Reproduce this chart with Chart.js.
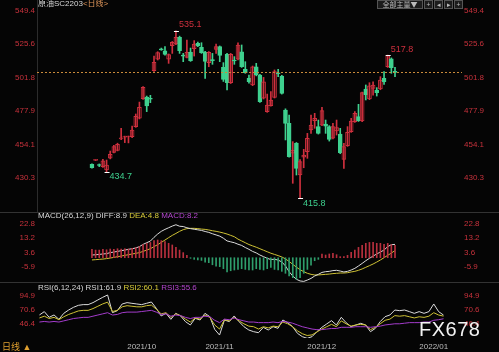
<!DOCTYPE html>
<html><head><meta charset="utf-8">
<script src="https://cdn.jsdelivr.net/npm/chart.js@4.4.0/dist/chart.umd.min.js"></script>
<style>
html,body{margin:0;padding:0;background:#050505;}
#wrap{position:relative;width:499px;height:352px;background:#050505;overflow:hidden;font-family:"Liberation Sans","Noto Sans CJK SC",sans-serif;}
canvas{position:absolute;left:0;}
.t{position:absolute;font-size:8px;line-height:10px;white-space:nowrap;color:#d8d8d8;}
.btn{position:absolute;top:0;height:7px;border:1px solid #555;background:#1c1c1c;color:#bbb;font-size:7px;line-height:7px;text-align:center;font-family:"Noto Sans CJK SC",sans-serif;}
</style></head>
<body><div id="wrap">
<canvas id="kline" width="499" height="212" style="top:0"></canvas>
<canvas id="macd" width="499" height="70" style="top:212px"></canvas>
<canvas id="rsi" width="499" height="70" style="top:282px"></canvas>
<div class="t" style="left:38px;top:-1px">原油SC2203<span style="color:#e0965a">&lt;日线&gt;</span></div>
<div class="btn" style="left:377px;width:44px">全部主量▼</div>
<div class="btn" style="left:424px;width:7px">+</div>
<div class="btn" style="left:434px;width:7px">◂</div>
<div class="btn" style="left:444px;width:7px">▸</div>
<div class="btn" style="left:454px;width:7px">+</div>
<div class="t" style="left:38px;top:211px">MACD(26,12,9) DIFF:8.9 <span style="color:#d8cc3a">DEA:4.8</span> <span style="color:#b546d0">MACD:8.2</span></div>
<div class="t" style="left:38px;top:283px">RSI(6,12,24) RSI1:61.9 <span style="color:#d8cc3a">RSI2:60.1</span> <span style="color:#b546d0">RSI3:55.6</span></div>
<div class="t" style="left:2px;top:342px;color:#e0a030;font-size:9px">日线 ▲</div>
<div class="t" style="left:419px;top:317px;font-size:20px;line-height:24px;color:#f2f2f2;letter-spacing:0.5px">FX678</div>
</div>
<script>
// daily candles, index 0 = first bar on the left
const open  = [439.9,442.8,439.3,438.3,435.9,444.4,448.5,449.9,458.0,459.3,459.4,459.6,466.8,472.9,486.7,487.9,486.7,506.7,514.8,522.0,
  520.9,514.8,524.5,525.7,530.4,517.3,516.2,520.0,522.4,526.2,523.3,520.0,512.4,513.9,521.9,523.8,509.0,518.3,498.1,513.9,
  514.8,520.2,507.6,501.2,496.5,509.5,503.6,487.0,477.5,481.8,487.7,504.8,502.9,478.6,469.1,447.8,454.9,432.3,445.0,448.9,
  464.4,471.0,466.8,467.9,468.7,466.8,458.5,463.7,461.5,443.5,453.2,463.2,470.3,473.9,470.8,493.6,486.5,494.1,492.9,493.6,
  501.2,509.5,515.2,505.6];
const high  = [440.2,443.3,440.2,443.5,443.0,449.4,453.5,455.0,465.6,460.0,460.1,467.2,475.8,484.3,495.3,488.6,489.1,517.1,520.2,522.8,
  523.8,518.6,527.5,535.1,531.3,519.0,528.5,522.8,528.1,527.0,526.6,520.5,520.3,519.0,525.7,524.3,512.4,519.0,519.0,516.7,
  526.6,525.0,513.1,503.6,510.0,511.9,504.0,501.9,490.0,491.7,507.2,507.6,503.4,479.5,475.1,456.1,455.5,443.3,450.6,462.0,
  475.1,476.3,471.5,480.5,471.5,467.5,469.1,471.5,465.6,454.9,466.8,472.7,477.5,482.7,491.5,496.5,498.1,498.8,494.6,502.4,
  506.0,517.8,515.8,509.1];
const low   = [437.2,442.6,438.3,437.8,434.7,443.8,448.0,449.5,457.5,455.4,455.2,459.0,466.3,472.3,486.2,477.5,483.9,506.2,514.3,521.2,
  517.8,511.9,519.0,525.2,519.0,513.1,515.7,513.3,517.1,523.8,519.0,501.2,509.5,511.2,519.0,513.1,499.0,492.9,497.5,511.2,
  514.3,509.0,504.8,497.7,496.0,503.0,484.0,486.5,477.0,481.3,487.2,502.4,490.0,457.3,445.0,426.4,432.3,415.8,437.5,444.2,
  462.0,465.6,461.5,467.4,462.0,456.5,458.0,460.8,447.5,437.1,452.7,462.7,469.8,470.5,470.3,485.8,486.0,489.3,488.6,493.1,
  496.9,509.0,504.8,502.4];
const close = [437.5,443.1,439.1,442.5,439.4,447.0,452.5,454.2,458.9,459.8,459.9,464.4,474.1,480.5,494.8,481.5,486.3,512.6,519.5,521.5,
  518.3,518.1,526.9,530.4,520.9,517.1,519.8,513.8,525.7,524.3,519.5,513.3,519.8,513.8,523.8,517.6,500.5,498.1,518.3,513.6,
  525.0,509.5,505.3,498.8,509.5,503.6,484.6,498.8,482.2,485.8,506.0,504.5,490.5,469.1,445.4,450.1,437.1,441.8,446.5,458.4,
  467.9,472.7,462.0,478.2,467.2,457.7,466.8,466.1,448.2,452.5,462.7,470.8,476.3,471.0,491.0,489.6,495.8,496.5,491.0,500.0,
  498.8,517.4,508.8,505.5];

// MACD(26,12,9)
const diff = [1.8,2.0,2.2,2.5,2.7,3.4,3.8,4.2,4.7,5.1,5.6,6.0,6.5,7.4,8.9,10.0,11.1,13.6,15.8,17.6,
  18.9,20.0,21.1,22.0,21.0,20.8,20.0,19.4,19.0,18.6,18.2,17.5,16.9,16.0,15.2,14.4,13.0,11.2,10.6,10.0,
  9.0,8.2,6.8,5.6,4.2,3.2,1.8,0.7,-0.4,-1.2,-1.0,-1.6,-2.8,-5.5,-9.3,-12.2,-14.4,-15.5,-15.8,-14.9,
  -13.8,-12.2,-11.1,-9.8,-9.3,-9.1,-8.6,-8.4,-8.9,-9.5,-9.1,-8.2,-7.1,-5.5,-3.8,-2.0,-0.4,1.1,2.5,3.8,
  5.1,7.4,8.7,8.9];
const dea = [-1.5,-1.3,-1.1,-0.9,-0.6,-0.2,0.2,0.7,1.1,1.6,2.0,2.5,2.9,3.4,4.2,5.1,6.0,7.4,8.7,10.2,
  11.8,13.4,14.9,16.2,17.6,18.7,19.4,19.6,19.6,19.4,19.1,18.9,18.5,18.0,17.6,17.1,16.5,15.8,14.9,14.0,
  12.4,11.2,10.0,8.8,7.9,7.0,6.0,5.0,4.0,3.0,2.2,1.4,0.5,-0.8,-2.5,-4.4,-6.3,-8.0,-9.3,-10.4,
  -11.1,-11.5,-11.5,-11.3,-11.1,-10.9,-10.6,-10.4,-10.2,-10.2,-10.0,-9.5,-9.1,-8.4,-7.5,-6.4,-5.3,-4.2,-2.9,-1.5,
  0.0,1.6,3.1,4.8];
const macdHist = [5.6,5.1,5.1,5.6,5.3,5.8,5.6,6.0,5.8,6.0,5.8,6.2,6.7,7.4,8.7,9.6,10.2,11.4,11.8,11.4,
  10.7,9.6,8.5,6.9,5.1,3.4,1.6,-0.4,-1.1,-1.5,-1.8,-2.9,-3.3,-4.7,-5.6,-6.0,-7.3,-9.5,-8.7,-8.2,
  -7.8,-7.3,-7.8,-8.2,-8.2,-7.3,-7.8,-8.2,-7.3,-6.4,-7.8,-8.2,-9.1,-10.4,-12.2,-13.3,-14.4,-13.3,-10.4,-7.8,
  -4.9,-2.0,-1.1,2.5,1.8,2.5,2.9,2.0,0.7,0.7,1.6,3.6,5.1,6.9,8.2,9.6,10.2,10.2,9.6,9.6,
  8.9,9.6,8.7,8.2];

// RSI(6,12,24)
const rsi1 = [62.1,67.8,58.1,62.1,54.6,64.9,70.6,75.2,78.6,79.8,79.8,83.2,87.8,92.3,96.3,66.1,69.5,80.9,83.2,82.0,
  80.9,79.8,82.0,84.3,73.5,60.4,64.9,54.6,64.9,60.4,50.7,44.9,56.4,53.5,64.9,59.2,37.5,27.8,53.5,50.7,
  60.4,50.7,42.1,36.4,33.5,31.8,40.9,36.4,42.1,39.2,53.5,48.9,42.1,30.7,25.0,22.1,25.0,33.5,40.9,46.7,
  52.4,44.9,58.1,48.9,42.1,44.9,47.8,44.9,33.5,39.2,50.7,59.2,62.1,70.6,69.5,70.6,67.8,64.9,67.8,64.9,
  67.8,80.9,67.8,61.9];
const rsi2 = [57,60,56,58,54,59,63,66,69,70,70,73,77,81,84,68,70,76,78,77,
  76,76,78,79,72,64,66,58,64,61,55,50,57,55,62,58,45,38,54,52,
  58,52,47,43,42,38,42,40,43,42,50,47,42,35,30,27,28,33,38,42,
  46,42,52,47,43,45,46,45,37,41,47,53,55,61,60,61,59,57,59,58,
  60,66,62,60.1];
const rsi3 = [50,51,50,51,50,52,54,56,57,58,58,60,62,64,66,62,63,66,67,67,
  67,68,69,70,67,63,64,60,62,61,58,56,58,58,60,59,53,49,55,54,
  57,54,52,50,50,49,49,49,50,49,51,50,48,45,42,40,38,37,37,38,
  39,39,41,41,41,42,42,42,41,42,43,45,46,47,47,48,49,49,49,50,
  50,53,54,55.6];

const priceTicks = [430.3, 454.1, 477.9, 501.8, 525.6, 549.4];
const macdTicks = [-5.9, 3.6, 13.2, 22.8];
const rsiTicks = [46.4, 70.6, 94.9];
const monthIdx = [21, 37, 58, 81];
const monthLabels = ['2021/10', '2021/11', '2021/12', '2022/01'];
const extremes = [
  {i: 23, v: 535.1, side: 'high'},
  {i: 81, v: 517.8, side: 'high'},
  {i: 4, v: 434.7, side: 'low'},
  {i: 57, v: 415.8, side: 'low'}
];

const RED = '#d0303e', GREEN = '#3fd18f', AXIS_RED = '#c8323c';
const xs = open.map((_, i) => i);
const up = xs.map(i => close[i] >= open[i]);

function xAxis(show) {
  return {
    type: 'linear', min: -0.5, max: 86.8, display: show,
    grid: {display: false, drawTicks: false}, border: {display: false},
    ticks: {color: '#bdbdbd', font: {size: 8, family: 'Liberation Sans'}, padding: 4, maxRotation: 0, autoSkip: false,
      callback: (v, idx) => monthLabels[idx]},
    afterBuildTicks: a => { a.ticks = monthIdx.map(v => ({value: v})); },
    afterFit: a => { a.height = show ? 14 : 0; a.paddingLeft = 0; a.paddingRight = 0; }
  };
}

function yAxis(pos, min, max, ticks, border) {
  return {
    type: 'linear', position: pos, min: min, max: max,
    grid: {display: false, drawTicks: false},
    border: {display: border, color: '#2c2c2c'},
    ticks: {color: AXIS_RED, font: {size: 8, family: 'Liberation Sans'}, padding: 2, callback: v => v.toFixed(1)},
    afterBuildTicks: a => { a.ticks = ticks.map(v => ({value: v})); },
    afterFit: a => { a.width = 37; a.paddingTop = 0; a.paddingBottom = 0; }
  };
}

const sepLine = {
  id: 'sepLine',
  beforeDraw(chart) {
    const c = chart.ctx;
    c.save();
    c.strokeStyle = '#333';
    c.lineWidth = 1;
    c.beginPath();
    c.moveTo(0, 0.5);
    c.lineTo(chart.width, 0.5);
    c.stroke();
    c.restore();
  }
};

const priceMarks = {
  id: 'priceMarks',
  afterDatasetsDraw(chart) {
    const c = chart.ctx, xS = chart.scales.x, yS = chart.scales.y, a = chart.chartArea;
    c.save();
    // last price line
    const ly = Math.round(yS.getPixelForValue(close[close.length - 1])) + 0.5;
    c.strokeStyle = '#c98a3a';
    c.setLineDash([2, 2]);
    c.beginPath();
    c.moveTo(a.left, ly);
    c.lineTo(a.right, ly);
    c.stroke();
    c.setLineDash([]);
    c.font = '9px "Liberation Sans"';
    c.textBaseline = 'middle';
    extremes.forEach(m => {
      const x = xS.getPixelForValue(m.i), y = yS.getPixelForValue(m.v);
      c.strokeStyle = '#fff';
      c.beginPath();
      c.moveTo(x - 2, Math.round(y) + 0.5);
      c.lineTo(x + 3, Math.round(y) + 0.5);
      c.stroke();
      c.fillStyle = m.side === 'high' ? RED : GREEN;
      c.fillText(m.v.toFixed(1), x + 3, m.side === 'high' ? y - 6 : y + 5);
    });
    c.restore();
  }
};

new Chart(document.getElementById('kline'), {
  type: 'bar',
  data: {
    datasets: [
      {data: xs.map(i => ({x: i, y: [low[i], high[i]]})), backgroundColor: xs.map(i => up[i] ? RED : GREEN),
        barThickness: 1, grouped: false, yAxisID: 'y'},
      {data: xs.map(i => ({x: i, y: [open[i], close[i]]})), backgroundColor: xs.map(i => up[i] ? '#050505' : GREEN),
        borderColor: xs.map(i => up[i] ? RED : GREEN), borderWidth: 1, borderSkipped: false, minBarLength: 1,
        barThickness: 4, grouped: false, yAxisID: 'y'}
    ]
  },
  options: {
    responsive: false, animation: false, events: [],
    layout: {padding: 0},
    plugins: {legend: {display: false}, tooltip: {enabled: false}},
    scales: {x: xAxis(false), y: yAxis('left', 405.95, 557.06, priceTicks, true), y2: yAxis('right', 405.95, 557.06, priceTicks, false)}
  },
  plugins: [priceMarks]
});

new Chart(document.getElementById('macd'), {
  data: {
    datasets: [
      {type: 'bar', data: xs.map(i => ({x: i, y: macdHist[i]})), backgroundColor: macdHist.map(v => v >= 0 ? '#b8303e' : '#2f9e6c'),
        barThickness: 1, grouped: false, yAxisID: 'y'},
      {type: 'line', data: xs.map(i => ({x: i, y: diff[i]})), borderColor: '#dcdcdc', borderWidth: 1, pointRadius: 0, yAxisID: 'y'},
      {type: 'line', data: xs.map(i => ({x: i, y: dea[i]})), borderColor: '#cfc235', borderWidth: 1, pointRadius: 0, yAxisID: 'y'}
    ]
  },
  options: {
    responsive: false, animation: false, events: [],
    layout: {padding: 0},
    plugins: {legend: {display: false}, tooltip: {enabled: false}},
    scales: {x: xAxis(false), y: yAxis('left', -16.2, 30.5, macdTicks, false), y2: yAxis('right', -16.2, 30.5, macdTicks, false)}
  },
  plugins: [sepLine]
});

new Chart(document.getElementById('rsi'), {
  type: 'line',
  data: {
    datasets: [
      {data: xs.map(i => ({x: i, y: rsi3[i]})), borderColor: '#a43ccc', borderWidth: 1, pointRadius: 0, yAxisID: 'y'},
      {data: xs.map(i => ({x: i, y: rsi2[i]})), borderColor: '#cfc235', borderWidth: 1, pointRadius: 0, yAxisID: 'y'},
      {data: xs.map(i => ({x: i, y: rsi1[i]})), borderColor: '#dcdcdc', borderWidth: 1, pointRadius: 0, yAxisID: 'y'}
    ]
  },
  options: {
    responsive: false, animation: false, events: [],
    layout: {padding: 0},
    plugins: {legend: {display: false}, tooltip: {enabled: false}},
    scales: {x: xAxis(true), y: yAxis('left', 22.7, 118.5, rsiTicks, false), y2: yAxis('right', 22.7, 118.5, rsiTicks, false)}
  },
  plugins: [sepLine]
});
</script>
</body></html>
